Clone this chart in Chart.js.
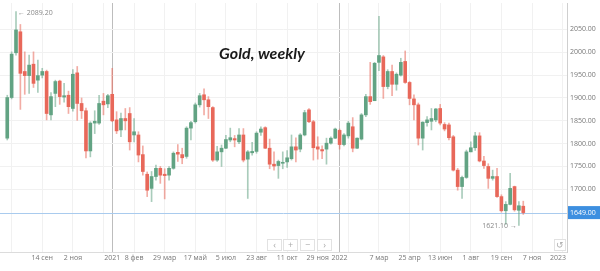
<!DOCTYPE html>
<html>
<head>
<meta charset="utf-8">
<script src="https://cdn.jsdelivr.net/npm/chart.js@4.4.0/dist/chart.umd.min.js"></script>
<style>
  html, body { margin: 0; background: #fff; }
  #wrap { width: 600px; height: 271px; position: relative; }
</style>
</head>
<body>
<div id="wrap"><canvas id="gold"></canvas></div>
<script>
// weekly candles, first one = week of 20 Jul 2020
const open = [1812,1901,1999,2045,1958,1949,1974,1939,1950,1958,1863,1910,1937,1902,1906,1877,1955,1888,1872,1784,
  1845,1845,1893,1887,1908,1852,1830,1855,1866,1819,1819,1776,1733,1702,1728,1746,1733,1731,1746,1781,
  1776,1772,1834,1848,1885,1907,1896,1879,1764,1782,1790,1808,1811,1804,1819,1766,1780,1783,1825,1835,
  1790,1755,1752,1757,1760,1767,1793,1788,1819,1874,1848,1793,1787,1788,1801,1812,1829,1798,1817,1837,
  1790,1810,1863,1903,1894,1978,1990,1925,1958,1930,1950,1980,1934,1898,1885,1812,1846,1849,1852,1877,
  1842,1841,1815,1742,1706,1726,1782,1791,1817,1762,1750,1724,1728,1684,1653,1667,1706,1654,1663];
const high = [1906,2001,2089.2,2061,2001,1994,2001,1983,1965,1961,1912,1939,1939,1932,1915,1962,1969,1900,1878,1848,
  1872,1906,1910,1908,1965,1870,1867,1877,1879,1855,1826,1795,1738,1739,1753,1750,1745,1750,1782,1798,
  1790,1837,1849,1889,1910,1920,1903,1881,1794,1797,1818,1834,1818,1833,1833,1785,1803,1826,1837,1837,
  1810,1782,1764,1782,1785,1819,1813,1822,1873,1877,1851,1815,1795,1812,1815,1834,1832,1822,1849,1857,
  1813,1866,1908,1978,1978,2079,1993,1962,1972,1955,1987,2003,1936,1907,1889,1848,1859,1877,1877,1886,
  1846,1845,1818,1746,1729,1786,1804,1825,1824,1772,1756,1742,1746,1688,1673,1735,1707,1673,1674];
const low = [1808,1898,1994,1875,1908,1910,1923,1912,1944,1852,1852,1881,1886,1891,1866,1871,1851,1855,1769,1771,
  1822,1842,1863,1879,1848,1822,1815,1830,1786,1804,1760,1731,1684,1673,1720,1713,1679,1720,1744,1761,
  1756,1768,1808,1845,1880,1863,1855,1761,1761,1750,1789,1804,1793,1800,1760,1680,1775,1779,1818,1789,
  1745,1742,1724,1745,1748,1764,1760,1782,1817,1846,1764,1766,1767,1755,1799,1811,1788,1795,1812,1782,
  1789,1808,1859,1886,1901,1960,1899,1920,1905,1917,1948,1932,1885,1852,1797,1786,1838,1830,1848,1841,
  1828,1808,1740,1698,1680,1724,1782,1785,1760,1746,1702,1720,1682,1650,1623,1666,1652,1621.1,1645];
const close = [1901,1996,2049,1954,1949,1972,1932,1949,1958,1866,1903,1936,1903,1905,1881,1952,1888,1872,1784,1845,
  1849,1888,1885,1905,1850,1828,1855,1850,1804,1826,1775,1739,1698,1728,1746,1731,1730,1746,1779,1777,
  1769,1834,1846,1885,1905,1896,1881,1764,1782,1790,1809,1813,1808,1819,1764,1782,1783,1823,1832,1790,
  1755,1751,1761,1759,1769,1793,1786,1819,1868,1848,1791,1788,1784,1801,1812,1832,1798,1819,1845,1790,
  1812,1863,1903,1892,1976,1993,1925,1958,1930,1952,1978,1934,1899,1885,1812,1847,1852,1855,1876,1845,
  1832,1813,1742,1706,1726,1782,1791,1817,1762,1752,1724,1728,1684,1653,1667,1702,1655,1664,1649];

const xTickPos = [8, 15, 24, 29, 36, 43, 50, 57, 64, 71, 76, 85, 92, 99, 106, 113, 120, 128];
const xTickText = ['14 сен', '2 ноя', '2021', '8 фев', '29 мар', '17 май', '5 июл', '23 авг', '11 окт',
  '29 ноя', '2022', '7 мар', '25 апр', '13 июн', '1 авг', '19 сен', '7 ноя', '2023'];
const yearPos = [24, 76];
const yTicks = [1700, 1750, 1800, 1850, 1900, 1950, 2000, 2050];

const up = '#62a383', down = '#e8685a';
const upWick = 'rgba(98,163,131,0.55)', downWick = 'rgba(232,104,90,0.55)';
const isUp = open.map((o, i) => close[i] >= o);

// grid every 7 weeks + the year lines
const gridPos = [];
for (let v = 1; v <= 127; v += 7) gridPos.push(v);
yearPos.forEach(v => gridPos.push(v));
gridPos.sort((a, b) => a - b);

const lastPrice = close[close.length - 1];
const hiIdx = high.indexOf(Math.max(...high));
const loIdx = low.indexOf(Math.min(...low));

const txtFont = '7px "Open Sans"';

const overlay = {
  id: 'overlay',
  beforeDatasetsDraw(chart) {
    const { ctx, chartArea, scales: { y } } = chart;
    const py = Math.round(y.getPixelForValue(lastPrice)) + 0.5;
    ctx.save();
    ctx.strokeStyle = '#a9cbee';
    ctx.lineWidth = 1;
    ctx.beginPath();
    ctx.moveTo(chartArea.left, py);
    ctx.lineTo(chartArea.right, py);
    ctx.stroke();
    ctx.restore();
  },
  afterDraw(chart) {
    const { ctx, chartArea, scales: { x, y } } = chart;
    ctx.save();

    // x labels
    ctx.font = txtFont;
    ctx.fillStyle = '#777';
    ctx.textBaseline = 'middle';
    ctx.textAlign = 'center';
    xTickPos.forEach((p, i) => {
      const w = ctx.measureText(xTickText[i]).width;
      let px = x.getPixelForValue(p);
      px = Math.min(px, chartArea.right - w / 2 - 1);
      ctx.fillText(xTickText[i], px, 258);
    });

    // last price box
    const py = y.getPixelForValue(lastPrice);
    ctx.fillStyle = '#3d8fe0';
    ctx.fillRect(chartArea.right + 1, py - 6.5, 600 - chartArea.right - 1, 13);
    ctx.fillStyle = '#fff';
    ctx.textAlign = 'left';
    ctx.fillText(lastPrice.toFixed(2), chartArea.right + 3, py + 0.5);

    // high / low marks
    ctx.fillStyle = '#888';
    ctx.textAlign = 'left';
    ctx.fillText('← ' + high[hiIdx].toFixed(2), x.getPixelForValue(hiIdx) + 2, y.getPixelForValue(high[hiIdx]) + 1);
    ctx.textAlign = 'right';
    ctx.fillText(low[loIdx].toFixed(2) + ' →', x.getPixelForValue(loIdx) - 2, y.getPixelForValue(low[loIdx]) + 1);

    // title
    ctx.font = 'bold italic 16px Lato';
    ctx.fillStyle = '#1a1a1a';
    ctx.textAlign = 'center';
    ctx.fillText('Gold, weekly', 262, 54);

    // navigation buttons
    const btns = [[267, '‹'], [283, '+'], [300, '−'], [317, '›']];
    ctx.font = '9px "Open Sans"';
    btns.forEach(([bx, s]) => {
      ctx.fillStyle = '#fff';
      ctx.fillRect(bx, 239, 15, 12);
      ctx.strokeStyle = '#e2e2e2';
      ctx.strokeRect(bx + 0.5, 239.5, 14, 11);
      ctx.fillStyle = '#aaa';
      ctx.textAlign = 'center';
      ctx.fillText(s, bx + 7.5, 245);
    });
    ctx.fillStyle = '#fff';
    ctx.fillRect(554, 239, 12, 12);
    ctx.strokeStyle = '#e2e2e2';
    ctx.strokeRect(554.5, 239.5, 11, 11);
    ctx.fillStyle = '#aaa';
    ctx.fillText('↺', 560, 245);
    ctx.restore();
  }
};

new Chart(document.getElementById('gold'), {
  type: 'bar',
  data: {
    datasets: [{
      label: 'body',
      data: open.map((o, i) => ({ x: i, y: [o, close[i]] })),
      backgroundColor: isUp.map(u => u ? up : down),
      barThickness: 3,
      minBarLength: 1,
      grouped: false,
      order: 0
    }, {
      label: 'wick',
      data: low.map((l, i) => ({ x: i, y: [l, high[i]] })),
      backgroundColor: isUp.map(u => u ? upWick : downWick),
      barThickness: 1,
      grouped: false,
      order: 1
    }]
  },
  options: {
    responsive: true,
    maintainAspectRatio: false,
    animation: false,
    events: [],
    layout: { padding: { top: 3, left: 0, right: 0, bottom: 0 } },
    plugins: { legend: { display: false }, tooltip: { enabled: false } },
    scales: {
      x: {
        type: 'linear',
        offset: false,
        min: -1.66,
        max: 128,
        afterBuildTicks: s => { s.ticks = gridPos.map(v => ({ value: v })); },
        afterFit: s => { s.height = 19; },
        ticks: { display: false },
        grid: {
          offset: false,
          drawTicks: false,
          color: c => yearPos.includes(c.tick && c.tick.value) ? '#bdbdbd' : '#f1f1f1'
        },
        border: { color: '#dcdcdc' }
      },
      y: {
        position: 'right',
        min: 1562.7,
        max: 2108,
        afterBuildTicks: s => { s.ticks = yTicks.map(v => ({ value: v })); },
        afterFit: s => { s.width = 33; s.paddingTop = 0; s.paddingBottom = 0; },
        ticks: {
          padding: 3,
          color: '#777',
          font: { family: 'Open Sans', size: 7 },
          callback: v => v.toFixed(2)
        },
        grid: { drawTicks: false, color: '#f1f1f1' },
        border: { color: '#cfcfcf' }
      }
    }
  },
  plugins: [overlay]
});
</script>
</body>
</html>
